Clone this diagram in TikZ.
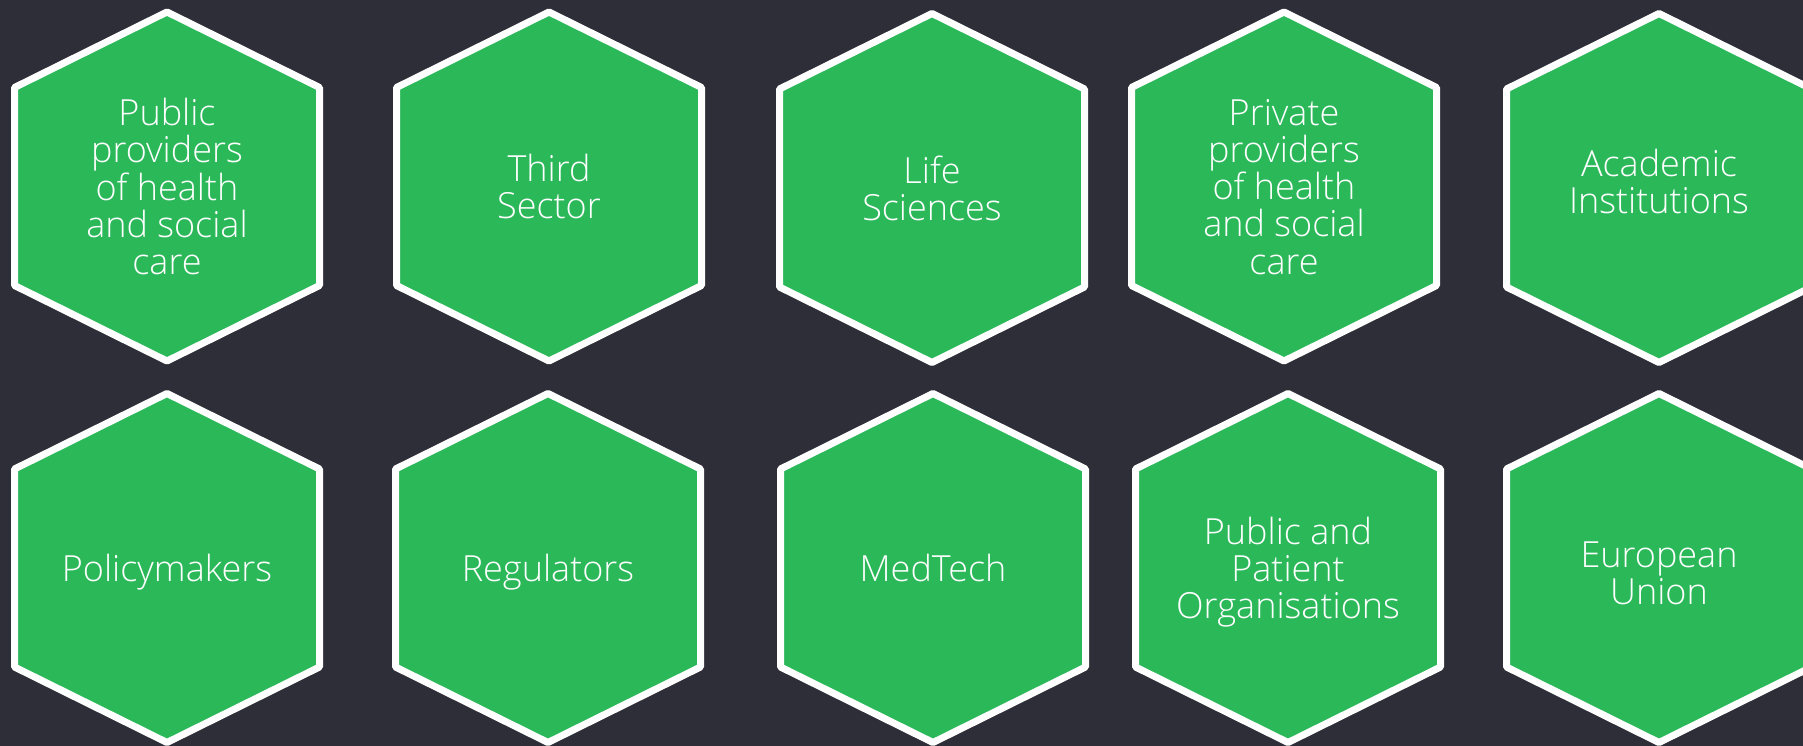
\documentclass[tikz,border=0pt]{standalone}
\usepackage{fontspec}
\setmainfont{Open Sans}[UprightFont=* Light]
\usetikzlibrary{calc, shadows}
\definecolor{cBack}{RGB}{46,46,56}
\definecolor{cHex}{RGB}{43,184,89}

% one stakeholder cell: [label options], name, x, y, label
\newcommand{\stake}[5][]{%
  \draw[hexline] ($(#3,#4)+(0,-174.5)$) -- ++(152.5,75.5) -- ++(0,198)
    -- ++(-152.5,75.5) -- ++(-152.5,-75.5) -- ++(0,-198) -- cycle;
  \node[hextext, #1] (#2) at (#3,#4) {#5};
}

\begin{document}
\begin{tikzpicture}[x=1pt, y=-1pt,
    hexline/.style={draw=white, line width=7pt, line join=round, fill=cHex,
      drop shadow={shadow xshift=2pt, shadow yshift=-3pt, opacity=0.35, fill=black}},
    hextext/.style={text=white, align=center, text depth=0pt,
      font=\fontsize{36}{37.25}\selectfont}]
  \fill[cBack] (0,0) rectangle (1803,746);
  \useasboundingbox (0,0) rectangle (1803,746);
  \clip (0,0) rectangle (1803,746);

  % top row
  \stake{pubcare}{167}{186.5}{Public\\providers\\of health\\and social\\care}
  \stake{third}{549}{186.5}{Third\\Sector}
  \stake{life}{932}{188}{Life\\Sciences}
  \stake{privcare}{1284}{186.5}{Private\\providers\\of health\\and social\\care}
  \stake[yshift=7pt]{academic}{1659}{188}{Academic\\Institutions}

  % bottom row
  \stake{policy}{167}{568}{Policymakers}
  \stake{regul}{548}{568}{Regulators}
  \stake{medtech}{933}{568}{MedTech}
  \stake{patient}{1288}{568}{Public and\\Patient\\Organisations}
  \stake[yshift=-5pt]{eu}{1659}{568}{European\\Union}
\end{tikzpicture}
\end{document}
